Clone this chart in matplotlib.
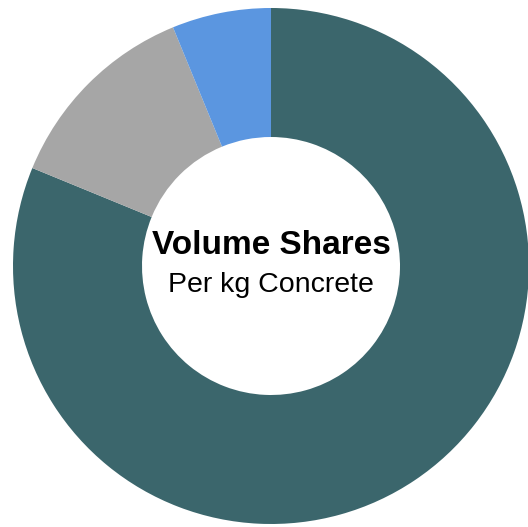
import matplotlib.pyplot as plt

labels = ["Aggregates", "Water", "Cement"]
shares = [81.2, 12.6, 6.2]
colors = ["#3b666c", "#a6a6a6", "#5b96e0"]

fig = plt.figure(figsize=(5.28, 5.27), dpi=100)
ax = fig.add_axes([13 / 528, 3 / 527, 516 / 528, 516 / 527])

ax.pie(shares, colors=colors, startangle=90, counterclock=False,
       radius=1.0, wedgeprops=dict(width=0.5, linewidth=0))
ax.set_xlim(-1, 1)
ax.set_ylim(-1, 1)
ax.set_aspect("auto")
ax.axis("off")

ax.text(0, 0.08, "Volume Shares", ha="center", va="center",
        fontsize=24, fontweight="bold", family="Liberation Sans")
ax.text(0, -0.075, "Per kg Concrete", ha="center", va="center",
        fontsize=20.5, family="Liberation Sans")

fig.savefig("out.png", dpi=100)
